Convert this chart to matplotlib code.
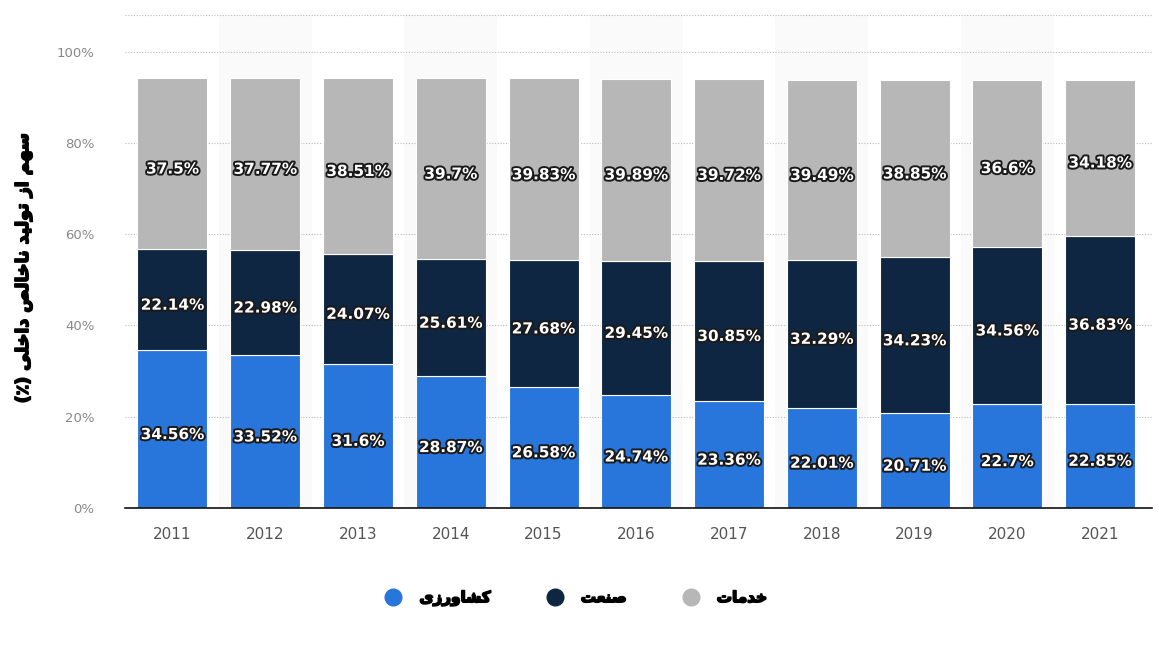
import matplotlib.pyplot as plt
import matplotlib.patheffects as pe
from matplotlib.lines import Line2D
import numpy as np

years = ["2011", "2012", "2013", "2014", "2015", "2016", "2017", "2018", "2019", "2020", "2021"]
agriculture = [34.56, 33.52, 31.6, 28.87, 26.58, 24.74, 23.36, 22.01, 20.71, 22.7, 22.85]
industry = [22.14, 22.98, 24.07, 25.61, 27.68, 29.45, 30.85, 32.29, 34.23, 34.56, 36.83]
services = [37.5, 37.77, 38.51, 39.7, 39.83, 39.89, 39.72, 39.49, 38.85, 36.6, 34.18]
series_names = ["کشاورزی", "صنعت", "خدمات"]
y_label = "سهم از تولید ناخالص داخلی (٪)"
y_ticks = [0, 20, 40, 60, 80, 100]

colors = ["#2876dc", "#0f2642", "#b7b7b7"]

# arabic presentation forms: isolated, final, initial, medial
FORMS = {
    "ا": ("\uFE8D", "\uFE8E", None, None),
    "ب": ("\uFE8F", "\uFE90", "\uFE91", "\uFE92"),
    "ت": ("\uFE95", "\uFE96", "\uFE97", "\uFE98"),
    "خ": ("\uFEA5", "\uFEA6", "\uFEA7", "\uFEA8"),
    "د": ("\uFEA9", "\uFEAA", None, None),
    "ر": ("\uFEAD", "\uFEAE", None, None),
    "ز": ("\uFEAF", "\uFEB0", None, None),
    "س": ("\uFEB1", "\uFEB2", "\uFEB3", "\uFEB4"),
    "ش": ("\uFEB5", "\uFEB6", "\uFEB7", "\uFEB8"),
    "ص": ("\uFEB9", "\uFEBA", "\uFEBB", "\uFEBC"),
    "ع": ("\uFEC9", "\uFECA", "\uFECB", "\uFECC"),
    "ل": ("\uFEDD", "\uFEDE", "\uFEDF", "\uFEE0"),
    "م": ("\uFEE1", "\uFEE2", "\uFEE3", "\uFEE4"),
    "ن": ("\uFEE5", "\uFEE6", "\uFEE7", "\uFEE8"),
    "ه": ("\uFEE9", "\uFEEA", "\uFEEB", "\uFEEC"),
    "و": ("\uFEED", "\uFEEE", None, None),
    "ی": ("\uFBFC", "\uFBFD", "\uFBFE", "\uFBFF"),
    "ک": ("\uFB8E", "\uFB8F", "\uFB90", "\uFB91"),
}


def rtl(text):
    out = []
    for i, c in enumerate(text):
        if c not in FORMS:
            out.append(c)
            continue
        f = FORMS[c]
        prev = text[i - 1] if i > 0 else None
        nxt = text[i + 1] if i + 1 < len(text) else None
        jp = prev in FORMS and FORMS[prev][2] is not None
        jn = nxt in FORMS and f[2] is not None
        if jp and jn:
            out.append(f[3])
        elif jp:
            out.append(f[1])
        elif jn:
            out.append(f[2])
        else:
            out.append(f[0])
    s = "".join(out)[::-1]
    return s.translate(str.maketrans("()", ")("))


plt.rcParams["font.family"] = ["DejaVu Sans"]

fig = plt.figure(figsize=(11.59, 6.46), dpi=100)
ax = fig.add_axes([0.108, 0.2136, 0.886, 0.7632])

x = np.arange(len(years))
width = 0.755

for i in x:
    if i % 2 == 1:
        ax.axvspan(i - 0.5, i + 0.5, color="#fafafa", zorder=0, lw=0)

bottom = np.zeros(len(years))
stroke = [pe.withStroke(linewidth=2.8, foreground="#1a1a1a")]
for vals, col in zip([agriculture, industry, services], colors):
    vals = np.array(vals)
    ax.bar(x, vals, width, bottom=bottom, color=col, edgecolor="white",
           linewidth=0.8, zorder=2)
    for xi, b, v in zip(x, bottom, vals):
        ax.text(xi, b + v / 2 - 1.2, f"{v:g}%", ha="center", va="center",
                color="white", fontsize=11, fontweight="bold",
                path_effects=stroke, zorder=3)
    bottom += vals

ax.set_xlim(-0.51, 10.56)
ax.set_ylim(0, 108)
ax.set_xticks(x)
ax.set_xticklabels(years)
ax.set_yticks(y_ticks + [108])
ax.set_yticklabels([f"{t}%" for t in y_ticks] + [""])
ax.tick_params(axis="x", length=0, pad=14, labelsize=11, colors="#555555")
ax.tick_params(axis="y", length=0, pad=22, labelsize=9.5, colors="#888888")

ax.grid(axis="y", color="#bbbbbb", linestyle=(0, (1, 1.5)), linewidth=0.8, zorder=1)
ax.set_axisbelow(True)
for s in ["top", "right", "left"]:
    ax.spines[s].set_visible(False)
ax.spines["bottom"].set_color("#111111")
ax.spines["bottom"].set_linewidth(1.2)
ax.spines["bottom"].set_zorder(4)

bold = [pe.withStroke(linewidth=1.2, foreground="black")]
fig.text(0.02, 0.585, rtl(y_label), rotation=90, ha="center", va="center",
         fontsize=12.5, fontweight="bold", color="black", path_effects=bold)

handles = [Line2D([], [], marker="o", linestyle="", markersize=12,
                  markerfacecolor=c, markeredgecolor=c) for c in colors]
leg = fig.legend(handles, [rtl(n) for n in series_names], loc="center",
                 bbox_to_anchor=(0.494, 0.074), ncol=3, frameon=False,
                 prop={"size": 11, "weight": "bold"}, handletextpad=0.7,
                 columnspacing=3.2)
for t in leg.get_texts():
    t.set_path_effects(bold)

fig.savefig("out.png", dpi=100)
